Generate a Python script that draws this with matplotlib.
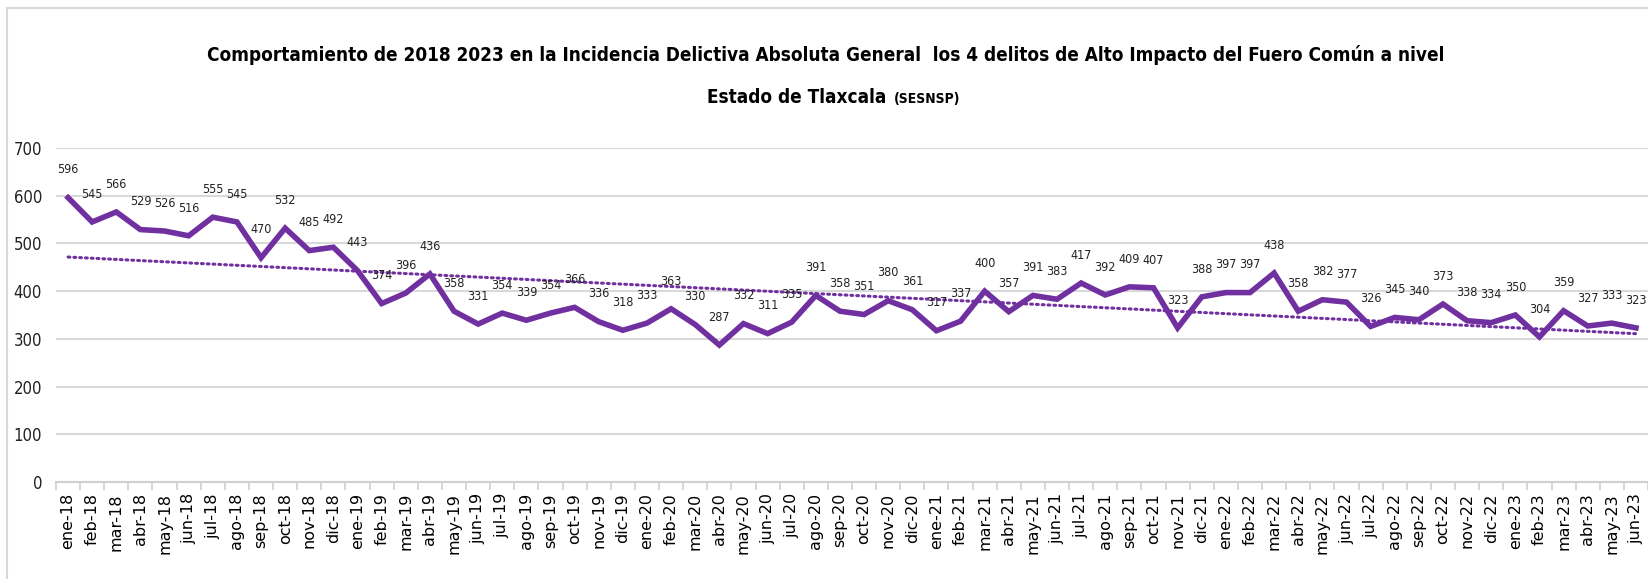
import numpy as np
import matplotlib
matplotlib.use('Agg')
import matplotlib.pyplot as plt
from matplotlib.patches import Rectangle

meses = ['ene', 'feb', 'mar', 'abr', 'may', 'jun', 'jul', 'ago', 'sep', 'oct', 'nov', 'dic']
anios = ['18', '19', '20', '21', '22', '23']
etiquetas = [m + '-' + a for a in anios for m in meses][:66]

v2018 = [596, 545, 566, 529, 526, 516, 555, 545, 470, 532, 485, 492]
v2019 = [443, 374, 396, 436, 358, 331, 354, 339, 354, 366, 336, 318]
v2020 = [333, 363, 330, 287, 332, 311, 335, 391, 358, 351, 380, 361]
v2021 = [317, 337, 400, 357, 391, 383, 417, 392, 409, 407, 323, 388]
v2022 = [397, 397, 438, 358, 382, 377, 326, 345, 340, 373, 338, 334]
v2023 = [350, 304, 359, 327, 333, 323]
valores = v2018 + v2019 + v2020 + v2021 + v2022 + v2023

morado = '#7030A0'
narrow = dict(family='DejaVu Sans', fontstretch='condensed')

W, H = 1649, 579
fig = plt.figure(figsize=(W / 100, H / 100), dpi=100)
ax = fig.add_axes([56 / W, 1 - 482 / H, (1648 - 56) / W, (482 - 148) / H])

x = np.arange(len(valores))
ax.plot(x, valores, color=morado, lw=4, solid_joinstyle='miter', zorder=3)

# linea de tendencia lineal
p = np.polyfit(x, valores, 1)
ax.plot(x, np.polyval(p, x), color=morado, lw=2.2, linestyle=(0, (0.6, 1.3)),
        dash_capstyle='round', zorder=2)

for xi, v in zip(x, valores):
    ax.annotate(str(v), (xi, v), xytext=(0, 20), textcoords='offset points',
                ha='center', va='center', fontsize=9, color='#222222', **narrow)

ax.set_xlim(-0.5, len(valores) - 0.5)
ax.set_ylim(0, 700)
ax.set_yticks(range(0, 701, 100))
ax.yaxis.grid(True, color='#D9D9D9', lw=1.5)
ax.set_axisbelow(True)
for s in ['top', 'right', 'left']:
    ax.spines[s].set_visible(False)
ax.spines['bottom'].set_color('#D0D0D0')
ax.spines['bottom'].set_linewidth(1.5)

ax.set_xticks(x)
ax.set_xticklabels(etiquetas, rotation=90, fontsize=11.5, family='DejaVu Sans')
ax.tick_params(axis='x', which='major', length=0, pad=8)
ax.set_xticks(np.arange(-0.5, len(valores), 1), minor=True)
ax.tick_params(axis='x', which='minor', length=6, color='#D0D0D0', width=1.2)
ax.tick_params(axis='y', length=0, pad=10)
for lab in ax.get_yticklabels():
    lab.set_family('DejaVu Sans')
    lab.set_stretch('condensed')
    lab.set_fontsize(12)
    lab.set_color('#222222')

# marco del grafico
fig.patches.append(Rectangle((7 / W, -0.1), 1.2, 1 - 8 / H + 0.1, transform=fig.transFigure,
                             fill=False, edgecolor='#D9D9D9', lw=1.5))

fig.text(826 / W, 1 - 55 / H,
         'Comportamiento de 2018 2023 en la Incidencia Delictiva Absoluta General  los 4 delitos de Alto Impacto del Fuero Común a nivel',
         ha='center', va='center', fontsize=13.6, fontweight='bold', **narrow)
fig.text(886 / W, 1 - 103 / H, 'Estado de Tlaxcala', ha='right', va='baseline',
         fontsize=13.6, fontweight='bold', **narrow)
fig.text(894 / W, 1 - 103 / H, '(SESNSP)', ha='left', va='baseline',
         fontsize=10, fontweight='bold', **narrow)

plt.savefig('out.png', dpi=100)
plt.close()
